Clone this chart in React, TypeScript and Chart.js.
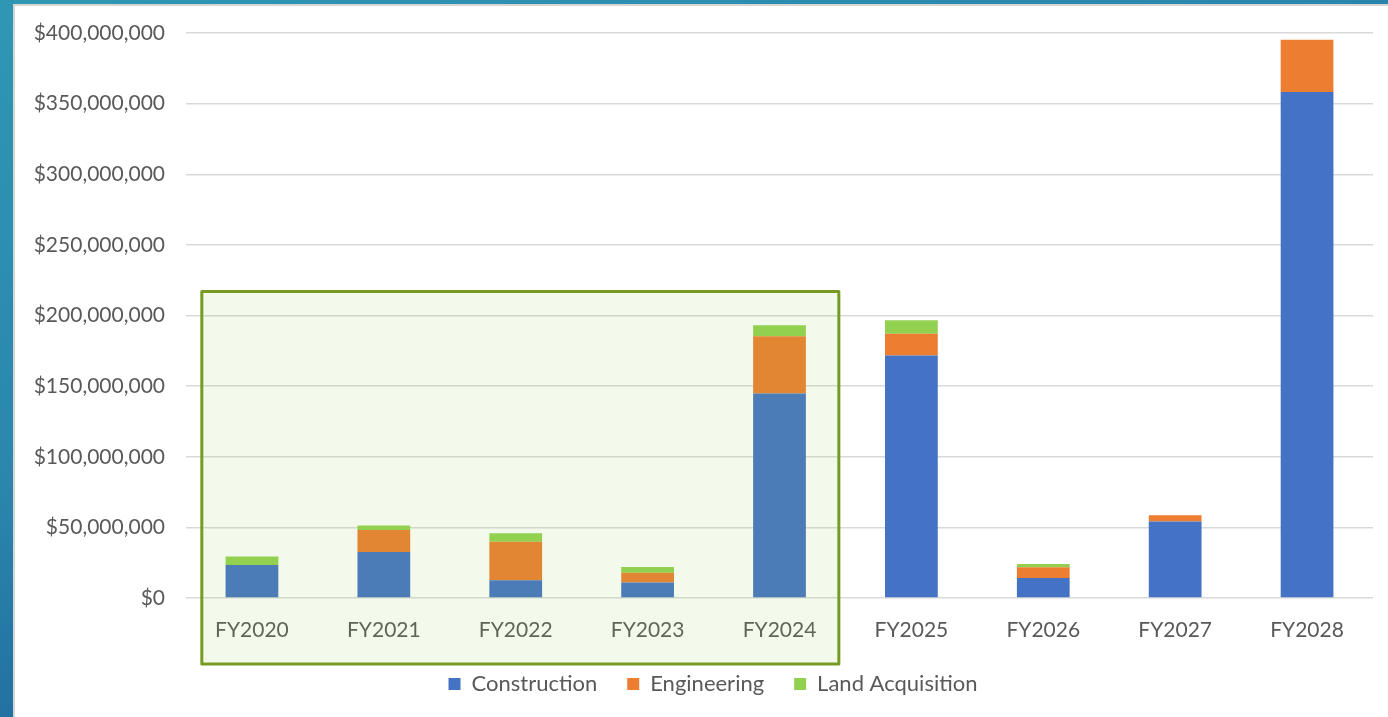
import React, { useEffect, useRef } from "react";
import { Chart, registerables } from "chart.js";

Chart.register(...registerables);

const categories = ["FY2020", "FY2021", "FY2022", "FY2023", "FY2024", "FY2025", "FY2026", "FY2027", "FY2028"];
const construction = [23.4, 32.6, 12.5, 10.9, 144.7, 171.6, 14.2, 54.1, 358.2].map((v) => v * 1e6);
const engineering = [0, 15.6, 27.4, 7.0, 40.6, 15.4, 7.6, 4.5, 37.1].map((v) => v * 1e6);
const landAcquisition = [5.9, 3.1, 6.0, 4.1, 7.8, 9.7, 2.3, 0, 0].map((v) => v * 1e6);
const yTicks = [0, 50e6, 100e6, 150e6, 200e6, 250e6, 300e6, 350e6, 400e6];
const highlightFirst = 0;
const highlightLast = 4;
const highlightTopValue = 217e6;

const FONT = "Lato, 'Open Sans', sans-serif";
const TEXT = "#595959";

const legendShiftPlugin = {
  id: "legendShift",
  afterLayout(chart: any) {
    const lg = chart.legend;
    if (lg) {
      lg.left += 38;
      lg.width -= 38;
    }
  },
};

const highlightPlugin = {
  id: "highlightBox",
  afterDraw(chart: any) {
    const x = chart.scales.x;
    const y = chart.scales.y;
    const ctx = chart.ctx;
    const cat = (x.getPixelForValue(1) - x.getPixelForValue(0));
    const left = x.getPixelForValue(highlightFirst) - 0.38 * cat;
    const right = x.getPixelForValue(highlightLast) + 0.45 * cat;
    const top = y.getPixelForValue(highlightTopValue);
    const bottom = chart.chartArea.bottom + 66;
    ctx.save();
    ctx.fillStyle = "rgba(146,208,80,0.11)";
    ctx.fillRect(left, top, right - left, bottom - top);
    ctx.strokeStyle = "#779B22";
    ctx.lineWidth = 3;
    ctx.lineJoin = "round";
    ctx.strokeRect(left, top, right - left, bottom - top);
    ctx.restore();
  },
};

export default function App() {
  const ref = useRef<HTMLCanvasElement>(null);
  useEffect(() => {
    if (!ref.current) return;
    const chart = new Chart(ref.current, {
      type: "bar",
      data: {
        labels: categories,
        datasets: [
          { label: "Construction", data: construction, backgroundColor: "#4472C4", borderWidth: 0 },
          { label: "Engineering", data: engineering, backgroundColor: "#ED7D31", borderWidth: 0 },
          { label: "Land Acquisition", data: landAcquisition, backgroundColor: "#92D050", borderWidth: 0 },
        ],
      },
      plugins: [legendShiftPlugin, highlightPlugin],
      options: {
        animation: false,
        responsive: false,
        maintainAspectRatio: false,
        layout: { padding: { left: 0, right: 15, top: 27, bottom: 12 } },
        datasets: { bar: { categoryPercentage: 1, barPercentage: 0.4 } },
        plugins: {
          tooltip: { enabled: false },
          legend: {
            position: "bottom",
            labels: {
              boxWidth: 12,
              boxHeight: 12,
              padding: 30,
              color: TEXT,
              font: { family: FONT, size: 22 },
            },
          },
        },
        scales: {
          x: {
            stacked: true,
            grid: { display: false },
            border: { display: false },
            ticks: { color: TEXT, font: { family: FONT, size: 21 }, padding: 12, maxRotation: 0 },
            afterFit: (s: any) => { s.height = 45; },
          },
          y: {
            stacked: true,
            min: 0,
            max: 400e6,
            afterBuildTicks: (s: any) => { s.ticks = yTicks.map((v) => ({ value: v })); },
            grid: { color: "#D9D9D9", lineWidth: 1.5, drawTicks: false },
            border: { display: false },
            ticks: {
              color: TEXT,
              font: { family: FONT, size: 21 },
              padding: 21,
              callback: (v: any) => "$" + Number(v).toLocaleString("en-US"),
            },
            afterFit: (s: any) => {
              s.width = 171;
              s.paddingTop = 12;
              s.paddingBottom = 12;
            },
          },
        },
      },
    });
    return () => chart.destroy();
  }, []);

  return (
    <div
      style={{
        position: "fixed",
        inset: 0,
        background: "linear-gradient(160deg, #2f97b4 0%, #2a86ad 40%, #1c5f98 75%, #0b2d68 100%)",
      }}
    >
      <div
        style={{
          position: "absolute",
          left: 13,
          top: 4,
          right: 0,
          bottom: 0,
          background: "#fff",
          borderLeft: "2px solid #d6d6d6",
          borderTop: "2px solid #d6d6d6",
        }}
      >
        <canvas ref={ref} width={1373} height={711} style={{ display: "block" }} />
      </div>
    </div>
  );
}
